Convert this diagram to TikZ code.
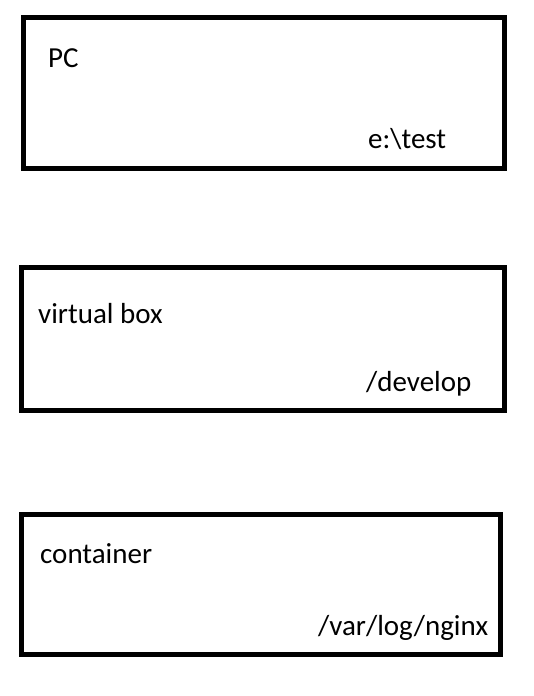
\documentclass[tikz,border=0pt]{standalone}
\usepackage{fontspec}
\setmainfont{Carlito}
\usepackage{tikz}
\usetikzlibrary{positioning}
\tikzset{
    host box/.style={
        draw,line width=5pt,
        fill=white,
        inner sep=0pt
    },
    box label/.style={
        anchor=base west,inner sep=0pt,
        font=\fontsize{29}{35}\selectfont
    }
}

\begin{document}
\begin{tikzpicture}[x=1pt,y=-1pt]
\useasboundingbox (0,0) rectangle (533,696);
\foreach \i/\x/\y/\w/\h in {pc/263.75/93/480.5/151,vbox/262.75/339/483.5/143,cont/260.85/584.6/479.7/139.8}
    \node[host box,minimum width=\w pt,minimum height=\h pt] (box_\i) at (\x,\y) {};
\node[box label] (name_pc) at (48,67) {PC};
\node[box label] (dir_pc) at (368,148) {e:\textbackslash test};
\node[box label] (name_vbox) at (38,323) {virtual box};
\node[box label] (dir_vbox) at (366,391) {/develop};
\node[box label] (name_cont) at (40,563) {container};
\node[box label] (dir_cont) at (318,635) {/var/log/nginx};
\end{tikzpicture}
\end{document}
